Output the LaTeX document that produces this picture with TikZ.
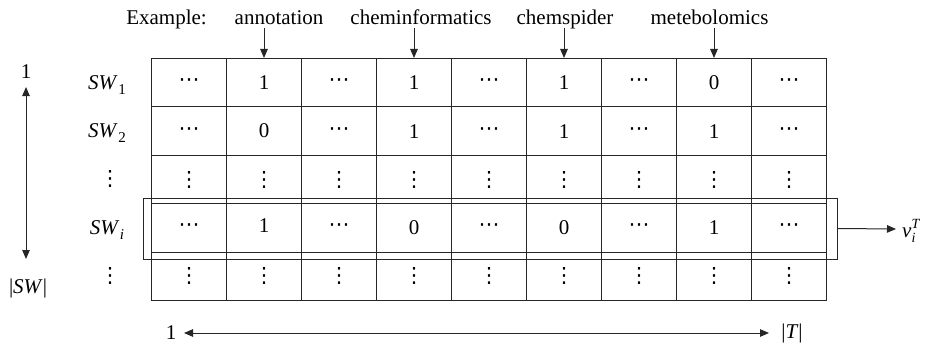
\documentclass[tikz,border=0pt]{standalone}
\usepackage{fontspec}
\setmainfont{Liberation Serif}
\newfontfamily\dotsfont{DejaVu Sans}
\usetikzlibrary{arrows.meta}
\newcommand{\subsc}[1]{\raisebox{-5pt}{\fontsize{15}{15}\selectfont #1}}
\newcommand{\SWlab}[1]{\textit{SW}\kern0.5pt\subsc{#1}}
\newcommand{\vd}{{\dotsfont\fontsize{21}{21}\selectfont ⋮}}
\newcommand{\hd}{{\dotsfont\fontsize{21}{21}\selectfont ⋯}}
\begin{document}
\begin{tikzpicture}[x=1pt,y=-1pt,
  lbl/.style={font=\fontsize{21}{21}\selectfont, inner sep=0pt},
  cell/.style={draw=black!85, line width=1pt, minimum width=75pt, minimum height=48.4pt, inner sep=0pt, font=\fontsize{21}{21}\selectfont, anchor=north west},
  arr/.style={-{Triangle[length=9pt,width=7.5pt]}, line width=1pt, black!85},
  darr/.style={{Triangle[length=9pt,width=7.5pt]}-{Triangle[length=9pt,width=7.5pt]}, line width=1pt, black!85}]
\useasboundingbox (0,0) rectangle (932,345);
% grid
\foreach \r/\cont in {1/{\hd,1,\hd,1,\hd,1,\hd,0,\hd},
                      2/{\hd,0,\hd,1,\hd,1,\hd,1,\hd},
                      3/{\vd,\vd,\vd,\vd,\vd,\vd,\vd,\vd,\vd},
                      4/{\hd,\raisebox{5pt}{1},\hd,0,\hd,0,\hd,1,\hd},
                      5/{\vd,\vd,\vd,\vd,\vd,\vd,\vd,\vd,\vd}}{
  \foreach \t [count=\c] in \cont {
    \node[cell] (c-\r-\c) at ({151+75*(\c-1)},{58+48.4*(\r-1)}) {\t};
  }
}
% highlight rectangle
\node[draw=black!85, line width=1pt, minimum width=694pt, minimum height=61pt, inner sep=0pt] (hl) at (490,228.5) {};
% top labels
\coordinate (arrtop) at (0,28);
\node[lbl, anchor=base] (ex) at (166.5,24.5) {Example:};
\node[lbl, anchor=base] (t2) at (279,24.5) {annotation};
\node[lbl, anchor=base] (t4) at (421,24.5) {cheminformatics};
\node[lbl, anchor=base] (t6) at (565,24.5) {chemspider};
\node[lbl, anchor=base] (t8) at (709.5,24.5) {metebolomics};
\foreach \k in {2,4,6,8} {
  \draw[arr] (c-1-\k.north |- arrtop) -- (c-1-\k.north);
}
% row labels
\node[lbl] (r1) at (107,85) {\SWlab{1}};
\node[lbl] (r2) at (107,133) {\SWlab{2}};
\node[lbl] (r3) at (110,179) {\vd};
\node[lbl] (r4) at (107,230) {\SWlab{\textit{i}}};
\node[lbl] (r5) at (110,276) {\vd};
% left vertical arrow
\node[lbl] (lone) at (26,72) {1};
\node[lbl] (lsw) at (28,288) {|\textit{SW}|};
\coordinate (lvt) at (26,87);
\coordinate (lvb) at (26,259);
\draw[darr] (lvt) -- (lvb);
% bottom arrow
\node[lbl] (bone) at (171,333) {1};
\node[lbl] (bT) at (792,333) {|\textit{T}|};
\coordinate (bl) at (184,333);
\coordinate (br) at (769,333);
\draw[darr] (bl) -- (br);
% right arrow
\node[lbl, anchor=west] (v) at (902,231) {\textit{v}\makebox[0pt][l]{\raisebox{-5pt}{\fontsize{14}{14}\selectfont\itshape i}}\raisebox{9pt}{\fontsize{14}{14}\selectfont\itshape T}};
\coordinate (va) at (896,229);
\draw[arr] (hl.east) -- (va);
\end{tikzpicture}
\end{document}
